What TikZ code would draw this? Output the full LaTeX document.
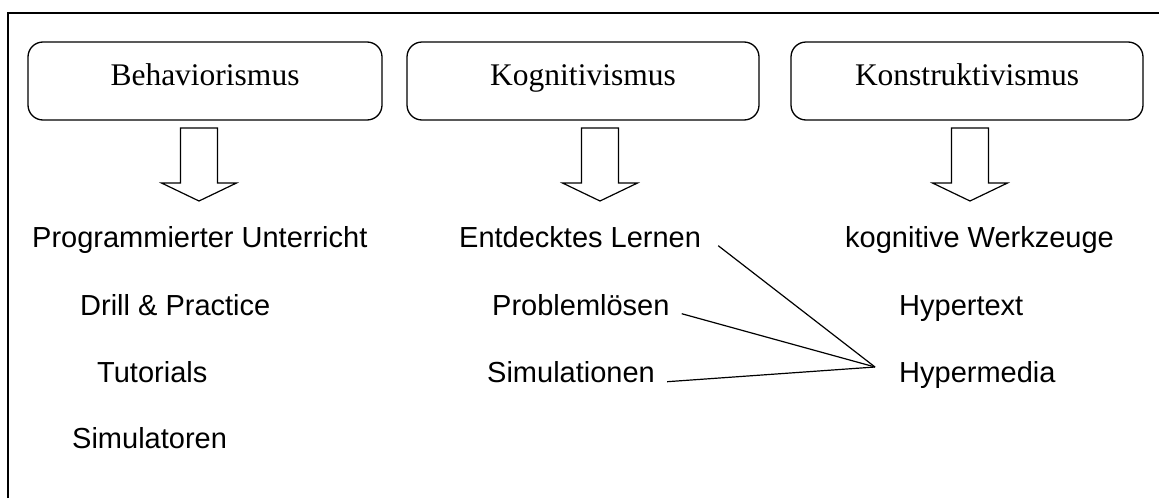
\documentclass[tikz,border=0pt]{standalone}
\usepackage{fontspec}
\setmainfont{Liberation Serif}
\setsansfont{Liberation Sans}
\begin{document}
\begin{tikzpicture}[x=1pt,y=-1pt,
  titlebox/.style={draw, line width=1.3pt, rounded corners=15pt, minimum width=#1, minimum height=78pt, inner sep=0pt, font=\fontsize{31.5}{36}\selectfont, text height=21pt, text depth=13pt},
  item/.style={anchor=base west, inner sep=0pt, font=\sffamily\fontsize{29}{34}\selectfont},
  link/.style={line width=1.2pt},
  frameline/.style={line width=1.5pt},
  blockarrow/.pic={\draw[line width=1.2pt, line join=miter] (-18.5,0) -- (18.5,0) -- (18.5,55) -- (37.5,55) -- (0,73) -- (-37.5,55) -- (-18.5,55) -- cycle;}
]
\useasboundingbox (0,0) rectangle (1159,498);
\draw[frameline] (8,498) -- (8,13) -- (1159,13);

\node[titlebox=354pt] (beh) at (205,81) {Behaviorismus};
\node[titlebox=352pt] (kog) at (583,81) {Kognitivismus};
\node[titlebox=352pt] (kon) at (967,81) {Konstruktivismus};

\pic at (199,128) {blockarrow};
\pic at (600,128) {blockarrow};
\pic at (970,128) {blockarrow};

\node[item] (pu) at (32,247) {Programmierter Unterricht};
\node[item] (dp) at (80,315) {Drill \& Practice};
\node[item] (tu) at (97,382) {Tutorials};
\node[item] (sr) at (72,448) {Simulatoren};

\node[item] (el) at (459,247) {Entdecktes Lernen};
\node[item] (pl) at (492,315) {Problemlösen};
\node[item] (si) at (487,382) {Simulationen};

\node[item] (kw) at (845,247) {kognitive Werkzeuge};
\node[item] (ht) at (899,315) {Hypertext};
\node[item] (hm) at (899,382) {Hypermedia};

\coordinate (meet) at (875,367);
\draw[link] ([xshift=17pt,yshift=-1pt]el.mid east) -- (meet);
\draw[link] ([xshift=12pt,yshift=-1pt]pl.mid east) -- (meet);
\draw[link] ([xshift=12pt,yshift=-2pt]si.mid east) -- (meet);
\end{tikzpicture}
\end{document}
